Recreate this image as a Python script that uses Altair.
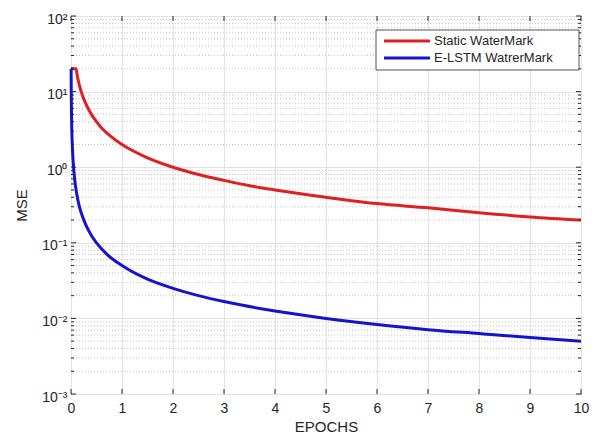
import altair as alt
import pandas as pd

# ---- data ----
series_names = ["Static WaterMark", "E-LSTM WatrerMark"]
series_colors = ["#e01f1f", "#1414cf"]

red_x = [0, 0.1, 0.12, 0.15, 0.2, 0.25, 0.3, 0.4, 0.5, 0.6, 0.8, 1.0, 1.25, 1.5,
         2, 2.5, 3, 3.5, 4, 5, 6, 7, 8, 9, 10]
red_y = [20, 20, 16.7, 13.3, 10, 8, 6.7, 5, 4, 3.3, 2.5, 2.0, 1.6, 1.33,
         1.0, 0.8, 0.67, 0.57, 0.5, 0.4, 0.33, 0.29, 0.25, 0.22, 0.2]

blue_x = [0, 0.0025, 0.004, 0.006, 0.01, 0.015, 0.02, 0.03, 0.05, 0.07, 0.1, 0.15,
          0.2, 0.3, 0.4, 0.5, 0.7, 1.0, 1.5, 2, 2.5, 3, 4, 5, 6, 7, 8, 9, 10]
blue_y = [20, 20, 12.5, 8.3, 5, 3.3, 2.5, 1.67, 1.0, 0.71, 0.5, 0.33,
          0.25, 0.167, 0.125, 0.1, 0.071, 0.05, 0.033, 0.025, 0.02, 0.0167, 0.0125,
          0.01, 0.0083, 0.0071, 0.0063, 0.0056, 0.005]

x_ticks = list(range(0, 11))
y_major = [0.001, 0.01, 0.1, 1, 10, 100]
y_minor = [m * d for d in [0.001, 0.01, 0.1, 1, 10] for m in range(2, 10)]

# ---- layout / style ----
W, H = 510, 378
FONT = "Liberation Sans"
INK = "#262626"

lines_df = pd.DataFrame({
    "epoch": red_x + blue_x,
    "mse": red_y + blue_y,
    "series": [series_names[0]] * len(red_x) + [series_names[1]] * len(blue_x),
})

xscale = alt.Scale(domain=[0, 10], nice=False, zero=False)
yscale = alt.Scale(type="log", domain=[0.001, 100], nice=False)

ylab = ("round(log(datum.value)/LN10) == 2 ? '10²' : "
        "round(log(datum.value)/LN10) == 1 ? '10¹' : "
        "round(log(datum.value)/LN10) == 0 ? '10⁰' : "
        "round(log(datum.value)/LN10) == -1 ? '10⁻¹' : "
        "round(log(datum.value)/LN10) == -2 ? '10⁻²' : '10⁻³'")

lines = alt.Chart(lines_df).mark_line(strokeWidth=3, interpolate="monotone").encode(
    x=alt.X("epoch:Q", scale=xscale,
            axis=alt.Axis(values=x_ticks, title="EPOCHS", grid=True, labelFlush=False,
                          labelOverlap=False, labelPadding=7, titleY=32,
                          titleBaseline="middle")),
    y=alt.Y("mse:Q", scale=yscale,
            axis=alt.Axis(values=y_major, title="MSE", grid=True, labelExpr=ylab,
                          labelFlush=False, labelOverlap=False,
                          labelPadding=4, labelOffset=3, titleX=-50, titleY=H / 2,
                          titleBaseline="middle", titleAlign="center")),
    color=alt.Color("series:N", scale=alt.Scale(domain=series_names, range=series_colors),
                    legend=None),
)

minor_grid = alt.Chart(pd.DataFrame({"v": y_minor})).mark_rule(
    color="#c4c4c4", strokeDash=[1, 2], strokeWidth=1
).encode(y=alt.Y("v:Q", scale=yscale, axis=None))

xt = alt.Chart(pd.DataFrame({"x": x_ticks}))
ymaj = alt.Chart(pd.DataFrame({"v": y_major}))
ymin = alt.Chart(pd.DataFrame({"v": y_minor}))
tick_layers = [
    xt.mark_rule(color=INK).encode(x=alt.X("x:Q", scale=xscale, axis=None),
                                   y=alt.value(H), y2=alt.value(H - 5)),
    xt.mark_rule(color=INK).encode(x=alt.X("x:Q", scale=xscale, axis=None),
                                   y=alt.value(0), y2=alt.value(5)),
    ymaj.mark_rule(color=INK).encode(y=alt.Y("v:Q", scale=yscale, axis=None),
                                     x=alt.value(0), x2=alt.value(5)),
    ymaj.mark_rule(color=INK).encode(y=alt.Y("v:Q", scale=yscale, axis=None),
                                     x=alt.value(W - 5), x2=alt.value(W)),
    ymin.mark_rule(color=INK).encode(y=alt.Y("v:Q", scale=yscale, axis=None),
                                     x=alt.value(0), x2=alt.value(3)),
    ymin.mark_rule(color=INK).encode(y=alt.Y("v:Q", scale=yscale, axis=None),
                                     x=alt.value(W - 3), x2=alt.value(W)),
]

# ---- legend box ----
one = alt.Chart(pd.DataFrame({"a": [0]}))
legend_layers = [
    one.mark_rect(fill="white", stroke=INK, strokeWidth=0.8).encode(
        x=alt.value(305), x2=alt.value(508), y=alt.value(14), y2=alt.value(54)),
]
for i, (name, col) in enumerate(zip(series_names, series_colors)):
    yy = 25 + 17 * i
    legend_layers.append(
        one.mark_rule(color=col, strokeWidth=3).encode(
            x=alt.value(313), x2=alt.value(359), y=alt.value(yy)))
    legend_layers.append(
        alt.Chart(pd.DataFrame({"name": [name]})).mark_text(
            align="left", baseline="middle", font=FONT, fontSize=13, color=INK
        ).encode(x=alt.value(363), y=alt.value(yy), text="name:N"))

chart = alt.layer(minor_grid, lines, *tick_layers, *legend_layers).resolve_axis(
    x="independent", y="independent"
).properties(
    width=W, height=H,
    padding={"left": 63, "top": 8, "right": 9, "bottom": 40},
    autosize=alt.AutoSizeParams(type="none"),
    background="white",
).configure_view(
    stroke=INK, strokeWidth=1
).configure_axis(
    labelFont=FONT, titleFont=FONT, labelColor=INK, titleColor=INK,
    labelFontSize=14, titleFontSize=15, titleFontWeight="normal",
    gridColor="#e2e2e2", gridWidth=1, domain=False, ticks=False,
)

chart.save("out.html", embed_options={"renderer": "svg", "actions": False})
